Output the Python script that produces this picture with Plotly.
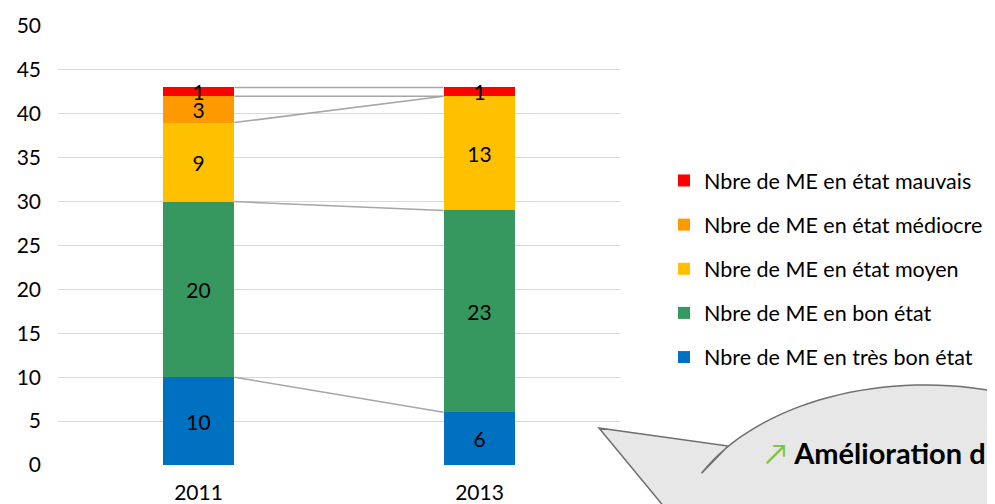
import plotly.graph_objects as go
import numpy as np

years = ["2011", "2013"]
tres_bon = [10, 6]
bon = [20, 23]
moyen = [9, 13]
mediocre = [3, 0]
mauvais = [1, 1]

series = [
    ("Nbre de ME en très bon état", tres_bon, "#0070C0"),
    ("Nbre de ME en bon état", bon, "#36985F"),
    ("Nbre de ME en état moyen", moyen, "#FFC000"),
    ("Nbre de ME en état médiocre", mediocre, "#FF9900"),
    ("Nbre de ME en état mauvais", mauvais, "#FF0000"),
]

FONT = "Lato"
OFF = 8  # page body margin
W, H = 995 - OFF, 504 - OFF
# plot area in reference-pixel coordinates
X0, X1, Y0, Y1 = 58, 620, 26, 465
L, R, T, B = X0 - OFF, W - (X1 - OFF), Y0 - OFF, H - (Y1 - OFF)
PW, PH = X1 - X0, Y1 - Y0
BAR_W = 0.256

x = list(range(len(years)))
fig = go.Figure()
cum = np.zeros(len(years))
tops = []
for i, (name, vals, col) in enumerate(series):
    fig.add_trace(go.Bar(
        x=x, y=vals, name=name, marker=dict(color=col, line=dict(width=0)),
        width=BAR_W, text=[str(v) if v else "" for v in vals],
        textposition="inside", insidetextanchor="middle", constraintext="none",
        textangle=0,
        textfont=dict(color="black", size=21, family=FONT),
        legendrank=1000 - i, legendgroup=f"g{i}",
    ))
    cum = cum + np.array(vals)
    tops.append(cum.copy())

# series lines between bars
for tp in tops:
    fig.add_trace(go.Scatter(
        x=[x[0] + BAR_W / 2, x[1] - BAR_W / 2], y=list(tp), mode="lines",
        line=dict(color="#A6A6A6", width=1.5), showlegend=False, hoverinfo="skip",
    ))

def px2paper(px, py):
    return (px - X0) / PW, (Y1 - py) / PH

# callout bubble
cx, cy, rx, ry = 925, 545, 250, 160
pts = [(599, 428), (728, 446)]
a0 = np.arctan2(446 - cy, 728 - cx)
for a in np.linspace(a0, -0.05, 60):
    pts.append((cx + rx * np.cos(a), cy + ry * np.sin(a)))
pts += [(1200, 600), (708, 560)]
path = ""
for k, (px_, py_) in enumerate(pts):
    xp, yp = px2paper(px_, py_)
    path += ("M" if k == 0 else "L") + f"{xp:.4f},{yp:.4f} "
path += "Z"
fig.add_shape(type="path", path=path, xref="paper", yref="paper",
              fillcolor="#E7E7E7", line=dict(color="#6E6E6E", width=1.5), layer="above")

ax_, ay_ = px2paper(763, 452)
fig.add_annotation(x=ax_, y=ay_, xref="paper", yref="paper", xanchor="left", yanchor="middle",
                   showarrow=False,
                   text="<span style='color:#7DC540'>↗</span> <b>Amélioration d</b>",
                   font=dict(family=FONT, size=29, color="black"))

lx, ly = px2paper(664, 160)
fig.update_layout(
    width=W, height=H, barmode="stack",
    margin=dict(l=L, r=R, t=T, b=B, pad=0, autoexpand=False),
    paper_bgcolor="white", plot_bgcolor="white",
    font=dict(family=FONT, size=16, color="#000"),
    xaxis=dict(tickvals=x, ticktext=years, range=[-0.5, len(years) - 0.5],
               showgrid=False, zeroline=False, showline=False, ticks="",
               ticklabelstandoff=13, tickfont=dict(size=21), automargin=False),
    yaxis=dict(range=[0, 50], dtick=5, showgrid=True, gridcolor="#D9D9D9", gridwidth=1,
               zeroline=False, showline=False, ticks="", ticklabelstandoff=16,
               tickfont=dict(size=21), automargin=False),
    legend=dict(x=lx, y=ly, xanchor="left", yanchor="top", traceorder="grouped",
                font=dict(size=21.5, family=FONT), itemwidth=30, tracegroupgap=13.2,
                bgcolor="rgba(0,0,0,0)"),
    bargap=0,
    showlegend=True,
)
fig.write_html("out.html")
